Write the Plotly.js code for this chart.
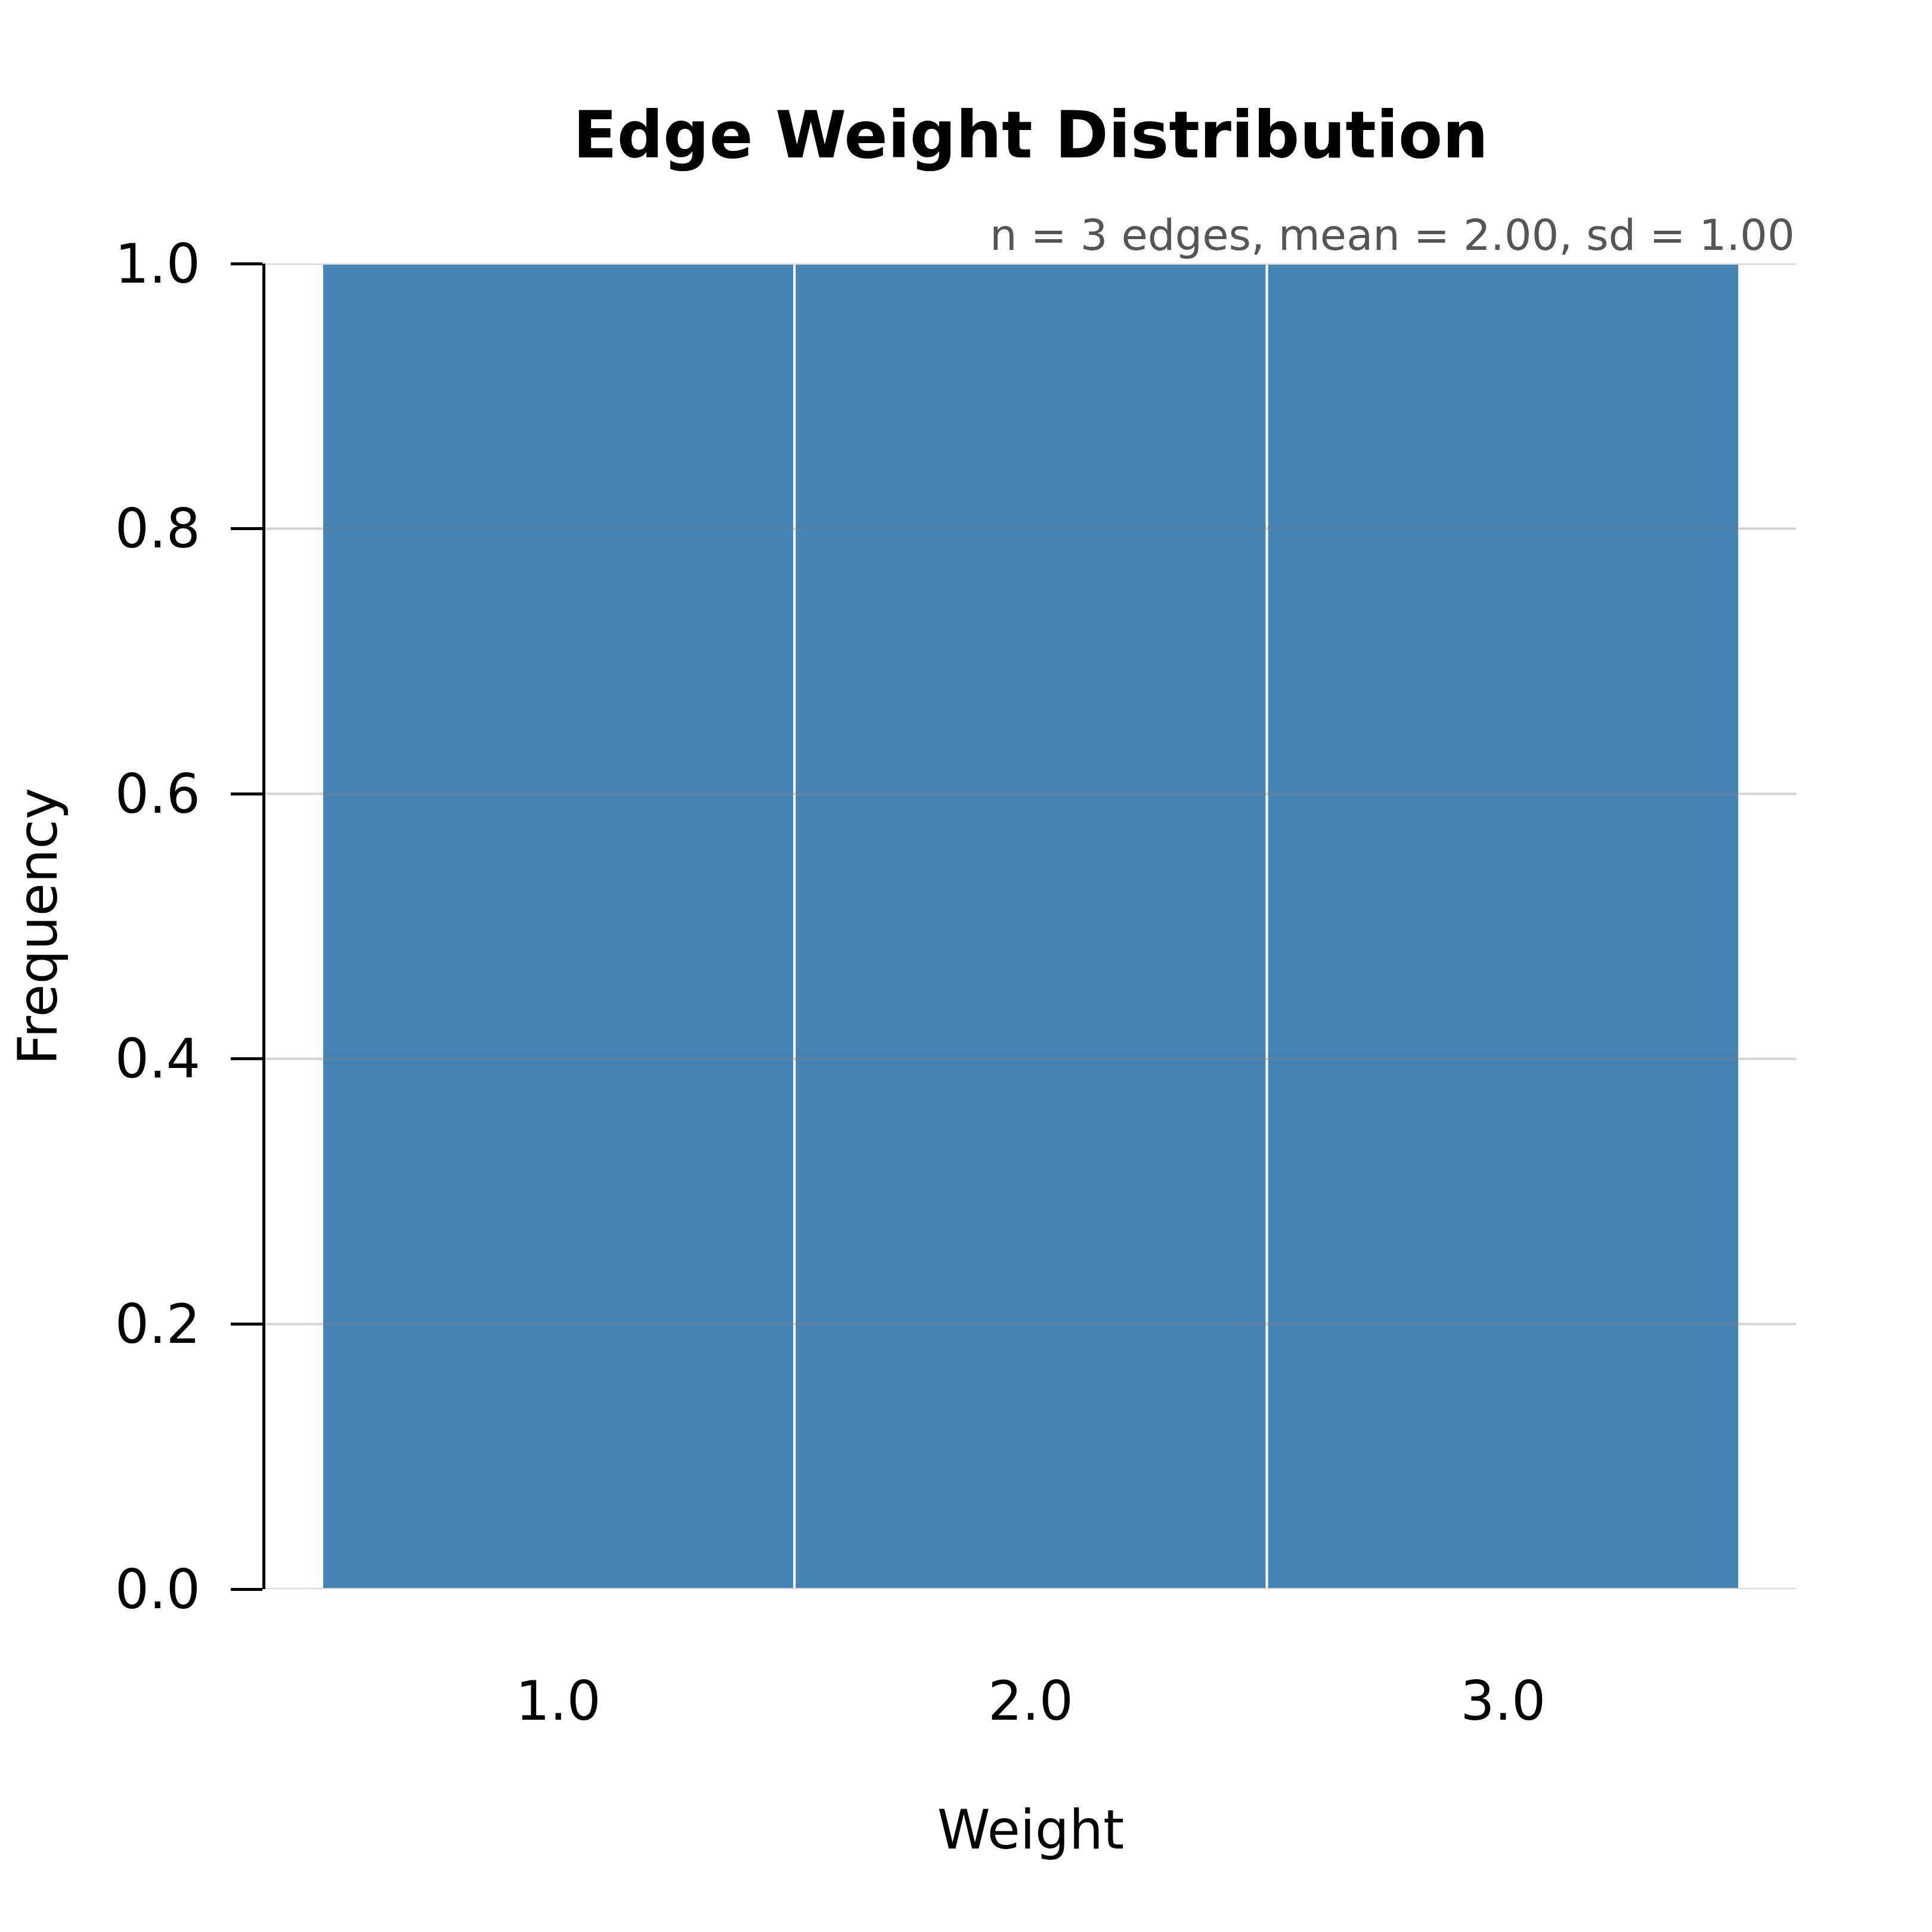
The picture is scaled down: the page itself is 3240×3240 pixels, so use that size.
<!DOCTYPE html>
<html>
<head>
<meta charset="utf-8">
<script src="https://cdn.plot.ly/plotly-3.0.1.min.js"></script>
<style>
  html, body { margin: 0; padding: 0; background: white; }
  #chart { width: 3240px; height: 3240px; }
</style>
</head>
<body>
<div id="chart"></div>
<script>
// edge weights and their histogram
const edgeWeights = [1, 2, 3];
const binCenters = [1, 2, 3];
const binCounts = [1, 1, 1];
const yTicks = [0, 0.2, 0.4, 0.6, 0.8, 1.0];

const FONT = 'DejaVu Sans, sans-serif';

function summaryText(values) {
    const n = values.length;
    const mean = values.reduce((a, b) => a + b, 0) / n;
    const variance = values.reduce((a, b) => a + (b - mean) * (b - mean), 0) / (n - 1);
    return 'n = ' + n + ' edges, mean = ' + mean.toFixed(2) + ', sd = ' + Math.sqrt(variance).toFixed(2);
}

const histTrace = {
    x: binCenters,
    y: binCounts,
    type: 'bar',
    width: 1,
    marker: {
        color: '#4682b4',
        line: { color: 'white', width: 4 }
    },
    hoverinfo: 'skip'
};

// grid lines sit on top of the bars in the original
const gridShapes = yTicks.map(v => ({
    type: 'line',
    xref: 'paper',
    x0: 0,
    x1: 1,
    yref: 'y',
    y0: v,
    y1: v,
    layer: 'above',
    line: { color: 'rgba(128,128,128,0.35)', width: 4 }
}));

const layout = {
    width: 3240,
    height: 3240,
    plot_bgcolor: 'white',
    paper_bgcolor: 'white',
    font: { family: FONT, color: 'black', size: 90 },
    margin: { l: 445, r: 228, t: 442, b: 575, pad: 0 },
    showlegend: false,
    bargap: 0,
    title: {
        text: '<b>Edge Weight Distribution</b>',
        font: { family: FONT, size: 108, color: 'black' },
        xref: 'paper',
        x: 0.5,
        xanchor: 'center',
        yref: 'container',
        y: 1 - 226 / 3240,
        yanchor: 'middle'
    },
    xaxis: {
        range: [0.38, 3.62],
        tickvals: binCenters,
        tickformat: '.1f',
        ticks: '',
        showline: false,
        showgrid: false,
        zeroline: false,
        ticklabelstandoff: 128,
        tickfont: { size: 90 },
        title: { text: 'Weight', font: { size: 90 }, standoff: 132 },
        fixedrange: true
    },
    yaxis: {
        range: [0, 1],
        tickvals: yTicks,
        tickformat: '.1f',
        ticks: 'outside',
        ticklen: 53,
        tickwidth: 5,
        tickcolor: 'black',
        showline: true,
        linecolor: 'black',
        linewidth: 5,
        showgrid: false,
        zeroline: false,
        ticklabelstandoff: 33,
        tickfont: { size: 90 },
        title: { text: 'Frequency', font: { size: 90 }, standoff: 69 },
        fixedrange: true
    },
    shapes: gridShapes,
    annotations: [{
        text: summaryText(edgeWeights),
        xref: 'paper',
        x: 1,
        xanchor: 'right',
        yref: 'paper',
        y: 1,
        yanchor: 'bottom',
        yshift: 4,
        showarrow: false,
        font: { family: FONT, size: 72, color: '#555555' }
    }]
};

Plotly.newPlot('chart', [histTrace], layout, { displayModeBar: false, staticPlot: true });
</script>
</body>
</html>
